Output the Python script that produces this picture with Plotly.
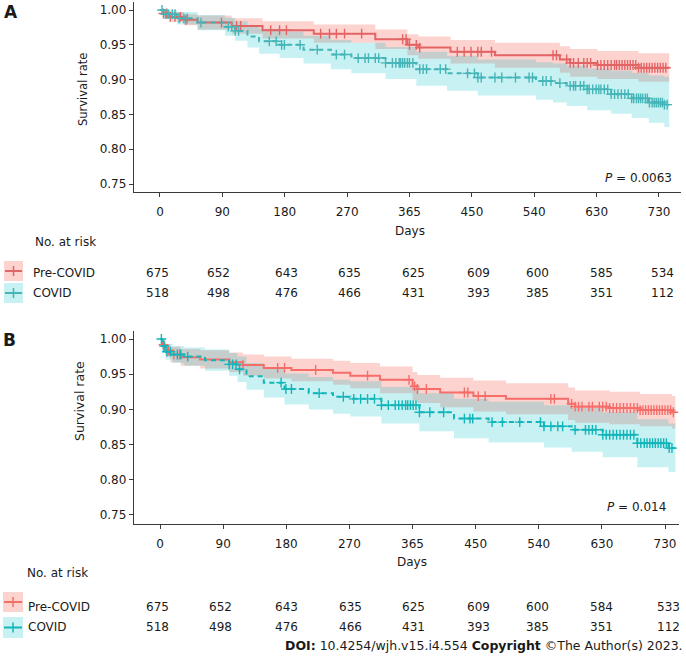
import plotly.graph_objects as go

W, H = 686, 660
FONT = "DejaVu Sans"
TXT = "#1a1a1a"

# ---------------- data ----------------
tick_labels = ["0", "90", "180", "270", "365", "450", "540", "630", "730"]
y_ticks = [0.75, 0.80, 0.85, 0.90, 0.95, 1.00]
groups = ["Pre-COVID", "COVID"]

# Panel A  - Pre-COVID
a_pre_t = [0, 5, 15, 35, 55, 105, 150, 225, 315, 362, 378, 425, 490, 585, 600, 640, 700, 745]
a_pre_s = [1.0, 0.995, 0.990, 0.986, 0.982, 0.977, 0.971, 0.966, 0.958, 0.950, 0.946, 0.940, 0.935, 0.929, 0.924, 0.921, 0.917, 0.917]
a_pre_lo = [1.0, 0.990, 0.983, 0.978, 0.972, 0.966, 0.959, 0.953, 0.944, 0.935, 0.930, 0.923, 0.917, 0.910, 0.904, 0.901, 0.897, 0.897]
a_pre_hi = [1.0, 1.0, 0.997, 0.994, 0.992, 0.988, 0.984, 0.979, 0.972, 0.965, 0.962, 0.957, 0.953, 0.948, 0.944, 0.941, 0.938, 0.938]
a_pre_cens = [5, 10, 15, 22, 30, 38, 90, 112, 118, 162, 175, 185, 235, 248, 258, 270, 295, 355, 360, 365, 375,
              380, 435, 445, 455, 465, 470, 485, 575, 580, 595, 600, 605, 612, 620, 625, 630, 640, 645, 650, 655,
              660, 665, 668, 672, 676, 680, 684, 688, 692, 696, 700, 704, 708, 712, 716, 720, 724, 728, 732, 736, 740]

# Panel A  - COVID
a_cov_t = [0, 6, 25, 55, 95, 110, 128, 145, 175, 210, 250, 280, 330, 375, 420, 465, 550, 575, 595, 625, 660, 690, 715, 738, 745]
a_cov_s = [1.0, 0.994, 0.988, 0.982, 0.976, 0.970, 0.962, 0.955, 0.950, 0.943, 0.936, 0.931, 0.924, 0.915, 0.909, 0.903,
           0.898, 0.895, 0.891, 0.886, 0.879, 0.873, 0.867, 0.864, 0.864]
a_cov_lo = [1.0, 0.987, 0.979, 0.971, 0.963, 0.956, 0.946, 0.937, 0.931, 0.923, 0.915, 0.909, 0.901, 0.891, 0.884, 0.877,
            0.871, 0.867, 0.862, 0.856, 0.851, 0.845, 0.838, 0.832, 0.832]
a_cov_hi = [1.0, 1.0, 0.997, 0.993, 0.989, 0.984, 0.978, 0.973, 0.969, 0.963, 0.957, 0.953, 0.947, 0.940, 0.934, 0.929,
            0.925, 0.923, 0.920, 0.916, 0.913, 0.910, 0.906, 0.904, 0.904]
a_cov_cens = [3, 8, 12, 18, 22, 28, 35, 40, 60, 100, 105, 110, 115, 160, 170, 178, 182, 205, 230, 258, 270, 290, 300,
              305, 315, 320, 330, 340, 345, 350, 352, 355, 358, 362, 365, 370, 380, 385, 390, 410, 418, 450, 460, 465,
              470, 490, 500, 520, 540, 545, 560, 565, 572, 585, 600, 605, 608, 615, 620, 625, 628, 633, 638, 642, 645,
              650, 655, 660, 665, 670, 675, 680, 685, 690, 693, 697, 700, 703, 706, 710, 713, 716, 720, 723, 726, 729,
              732, 735, 738, 742]

# Panel B  - Pre-COVID
b_pre_t = [0, 3, 8, 15, 30, 58, 100, 120, 150, 190, 250, 275, 318, 365, 372, 405, 453, 500, 590, 600, 650, 694, 740, 745]
b_pre_s = [1.0, 0.992, 0.984, 0.978, 0.974, 0.971, 0.967, 0.963, 0.959, 0.956, 0.952, 0.948, 0.942, 0.933, 0.929, 0.924,
           0.919, 0.915, 0.908, 0.904, 0.902, 0.899, 0.896, 0.896]
b_pre_lo = [1.0, 0.985, 0.975, 0.967, 0.962, 0.958, 0.953, 0.948, 0.944, 0.940, 0.935, 0.930, 0.923, 0.913, 0.909, 0.903,
            0.897, 0.893, 0.885, 0.881, 0.879, 0.876, 0.873, 0.873]
b_pre_hi = [1.0, 0.999, 0.993, 0.989, 0.986, 0.984, 0.981, 0.978, 0.975, 0.972, 0.969, 0.966, 0.961, 0.953, 0.949, 0.945,
            0.941, 0.937, 0.931, 0.927, 0.925, 0.922, 0.919, 0.919]
b_pre_cens = [5, 12, 20, 28, 120, 170, 180, 225, 300, 360, 368, 372, 385, 440, 445, 460, 470, 565, 570, 595, 600, 605,
              610, 620, 625, 635, 640, 645, 650, 655, 660, 665, 670, 675, 680, 685, 690, 694, 698, 702, 706, 710, 714,
              718, 722, 726, 730, 734, 738, 742]

# Panel B  - COVID
b_cov_t = [0, 3, 8, 18, 35, 65, 100, 112, 125, 150, 180, 215, 250, 275, 320, 375, 425, 475, 555, 595, 640, 690, 735, 745]
b_cov_s = [1.0, 0.990, 0.982, 0.978, 0.975, 0.970, 0.964, 0.957, 0.947, 0.938, 0.929, 0.923, 0.918, 0.915, 0.906, 0.896,
           0.887, 0.882, 0.876, 0.871, 0.864, 0.852, 0.845, 0.845]
b_cov_lo = [1.0, 0.982, 0.971, 0.966, 0.962, 0.955, 0.948, 0.939, 0.928, 0.917, 0.907, 0.900, 0.894, 0.890, 0.880, 0.869,
            0.859, 0.853, 0.846, 0.840, 0.832, 0.818, 0.811, 0.811]
b_cov_hi = [1.0, 0.998, 0.993, 0.990, 0.988, 0.985, 0.980, 0.975, 0.966, 0.959, 0.951, 0.946, 0.942, 0.940, 0.932, 0.923,
            0.915, 0.911, 0.906, 0.902, 0.896, 0.886, 0.880, 0.880]
b_cov_cens = [2, 6, 10, 15, 25, 30, 40, 100, 105, 110, 115, 175, 182, 190, 230, 265, 280, 290, 300, 310, 320, 330, 340,
              345, 350, 355, 358, 362, 366, 370, 375, 390, 410, 440, 448, 452, 480, 495, 520, 550, 555, 565, 575, 582,
              600, 615, 620, 625, 630, 640, 645, 650, 655, 660, 665, 670, 675, 680, 685, 690, 695, 700, 704, 708, 712,
              716, 720, 724, 728, 732, 736, 740]

a_risk_pre = [675, 652, 643, 635, 625, 609, 600, 585, 534]
a_risk_cov = [518, 498, 476, 466, 431, 393, 385, 351, 112]
b_risk_pre = [675, 652, 643, 635, 625, 609, 600, 584, 533]
b_risk_cov = [518, 498, 476, 466, 431, 393, 385, 351, 112]

p_a = "0.0063"
p_b = "0.014"

# ---------------- styling ----------------
RED_A, TEAL_A = "#E26464", "#45B5B7"
RED_B, TEAL_B = "#F56E6A", "#12B6BA"
FILL_RED = "rgba(248,118,109,0.32)"
FILL_TEAL = "rgba(0,191,196,0.22)"


def px(x):
    return x / W


def py(y):
    return 1 - y / H


def surv_at(ts, ss, x):
    v = ss[0]
    for t, s in zip(ts, ss):
        if t <= x:
            v = s
    return v


fig = go.Figure()


def add_panel(xa, ya, pre, cov, red, teal):
    # confidence bands
    for (t, s, lo, hi, cens), fill in [(pre, FILL_RED), (cov, FILL_TEAL)]:
        fig.add_trace(go.Scatter(x=t, y=hi, mode="lines", line=dict(width=0, shape="hv"),
                                 xaxis=xa, yaxis=ya, hoverinfo="skip", showlegend=False))
        fig.add_trace(go.Scatter(x=t, y=lo, mode="lines", line=dict(width=0, shape="hv"),
                                 fill="tonexty", fillcolor=fill,
                                 xaxis=xa, yaxis=ya, hoverinfo="skip", showlegend=False))
    # survival lines and censor marks
    for (t, s, lo, hi, cens), col, dash in [(pre, red, "solid"), (cov, teal, "5px,4px")]:
        fig.add_trace(go.Scatter(x=t, y=s, mode="lines", line=dict(width=2, shape="hv", color=col, dash=dash),
                                 xaxis=xa, yaxis=ya, showlegend=False))
        cy = [surv_at(t, s, c) for c in cens]
        fig.add_trace(go.Scatter(x=cens, y=cy, mode="markers",
                                 marker=dict(symbol="cross-thin", size=7, color=col,
                                             line=dict(width=1.4, color=col)),
                                 xaxis=xa, yaxis=ya, showlegend=False))


add_panel("x", "y", (a_pre_t, a_pre_s, a_pre_lo, a_pre_hi, a_pre_cens),
          (a_cov_t, a_cov_s, a_cov_lo, a_cov_hi, a_cov_cens), RED_A, TEAL_A)
add_panel("x2", "y2", (b_pre_t, b_pre_s, b_pre_lo, b_pre_hi, b_pre_cens),
          (b_cov_t, b_cov_s, b_cov_lo, b_cov_hi, b_cov_cens), RED_B, TEAL_B)

tickvals = [i * 730 / 8 for i in range(len(tick_labels))]
axis_common = dict(showline=True, linecolor="#3a3a3a", linewidth=1.4, ticks="outside", ticklen=4,
                   tickcolor="#3a3a3a", tickwidth=1.2, showgrid=False, zeroline=False,
                   tickfont=dict(family=FONT, size=12, color=TXT))

fig.update_layout(
    width=W, height=H, margin=dict(l=0, r=0, t=0, b=0),
    plot_bgcolor="white", paper_bgcolor="white", showlegend=False,
    xaxis=dict(domain=[px(134), px(681)], range=[-38.0, 762.2], anchor="y",
               tickvals=tickvals, ticktext=tick_labels, ticklabelstandoff=4, **axis_common),
    yaxis=dict(domain=[py(192), py(2)], range=[0.7385, 1.0115], anchor="x",
               tickvals=y_ticks, ticktext=["%.2f" % v for v in y_ticks], **axis_common),
    xaxis2=dict(domain=[px(134), px(679)], range=[-37.6, 750.2], anchor="y2",
                tickvals=tickvals, ticktext=tick_labels, ticklabelstandoff=4, **axis_common),
    yaxis2=dict(domain=[py(524), py(331)], range=[0.7372, 1.0114], anchor="x2",
                tickvals=y_ticks, ticktext=["%.2f" % v for v in y_ticks], **axis_common),
)

ann = []


def text(x, y, s, size=12, xanchor="center", angle=0, color=TXT):
    ann.append(dict(x=px(x), y=py(y), xref="paper", yref="paper", text=s, showarrow=False,
                    xanchor=xanchor, yanchor="middle", textangle=angle,
                    font=dict(family=FONT, size=size, color=color)))


# Panel labels
text(11, 12, "<b>A</b>", size=17)
text(9, 340, "<b>B</b>", size=17)
# y titles
text(83, 90, "Survival rate", size=11.5, angle=-90)
text(79, 401, "Survival rate", size=12.5, angle=-90)
# P values
text(674, 178, "<i>P</i> = " + p_a, size=12, xanchor="right")
text(668, 507, "<i>P</i> = " + p_b, size=12, xanchor="right")
# Days
text(410, 231, "Days", size=12)
text(412, 562, "Days", size=12)
# No. at risk
text(33, 242, "No. at risk", size=12, xanchor="left")
text(25, 573, "No. at risk", size=12, xanchor="left")
# group labels
text(31, 273, groups[0], size=12, xanchor="left")
text(31, 293, groups[1], size=12, xanchor="left")
text(26, 607, groups[0], size=12, xanchor="left")
text(26, 627, groups[1], size=12, xanchor="left")

cols_a = [157, 218, 286, 349, 413, 478, 537, 601, 662]
cols_b = [157, 220, 286, 351, 413, 478, 537, 601, 668]
for cx, v in zip(cols_a, a_risk_pre):
    text(cx, 273, str(v))
for cx, v in zip(cols_a, a_risk_cov):
    text(cx, 293, str(v))
for cx, v in zip(cols_b, b_risk_pre):
    text(cx, 607, str(v))
for cx, v in zip(cols_b, b_risk_cov):
    text(cx, 627, str(v))

text(685, 645, "<b>DOI:</b> 10.4254/wjh.v15.i4.554 <b>Copyright</b> ©The Author(s) 2023.", size=12.5,
     xanchor="right")

fig.update_layout(annotations=ann)

# legend icons
shapes = []


def icon(x0, y0, x1, y1, fill, col):
    cy = (y0 + y1) / 2
    cx = (x0 + x1) / 2
    shapes.append(dict(type="rect", xref="paper", yref="paper", x0=px(x0), x1=px(x1), y0=py(y1), y1=py(y0),
                       fillcolor=fill, line=dict(width=0)))
    shapes.append(dict(type="line", xref="paper", yref="paper", x0=px(x0 + 1), x1=px(x1 - 1), y0=py(cy), y1=py(cy),
                       line=dict(color=col, width=2)))
    shapes.append(dict(type="line", xref="paper", yref="paper", x0=px(cx), x1=px(cx), y0=py(cy - 5), y1=py(cy + 5),
                       line=dict(color=col, width=1.5)))


icon(4, 261, 23, 281, FILL_RED, RED_A)
icon(4, 283, 23, 303, FILL_TEAL, TEAL_A)
icon(3, 592, 23, 612, FILL_RED, RED_B)
icon(3, 617, 23, 638, FILL_TEAL, TEAL_B)
fig.update_layout(shapes=shapes)

fig.write_html("out.html", config={"displayModeBar": False},
               post_script="document.body.style.margin='0';document.body.style.overflow='hidden';")
